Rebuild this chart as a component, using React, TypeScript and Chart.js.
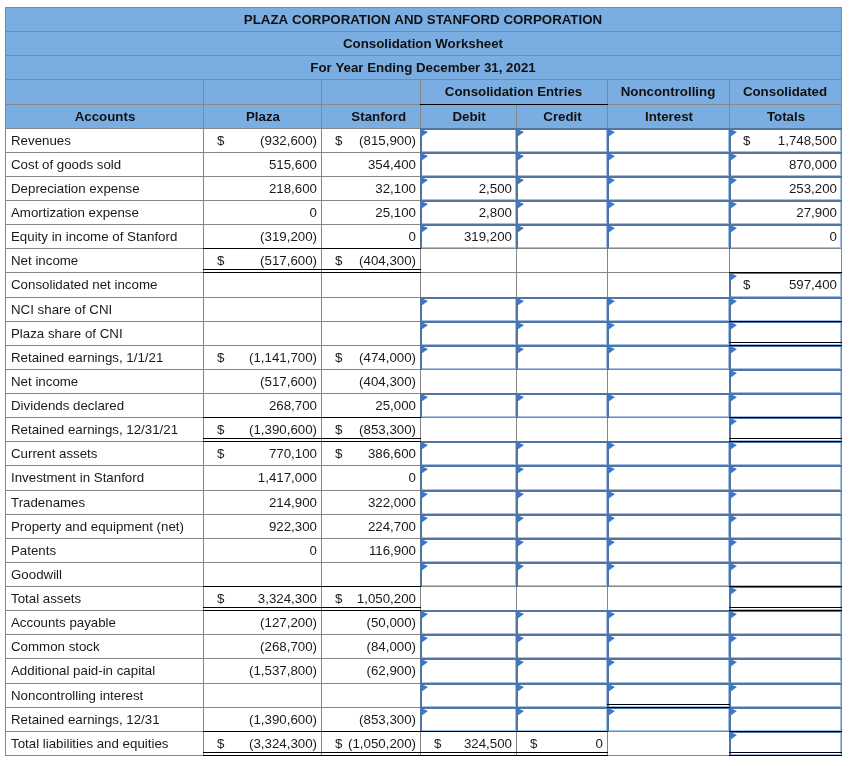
import React, { useEffect, useRef } from 'react';
import { Chart, registerables } from 'chart.js';

Chart.register(...registerables);

// ---------- text ----------
const titleLines = [
  'PLAZA CORPORATION AND STANFORD CORPORATION',
  'Consolidation Worksheet',
  'For Year Ending December 31, 2021',
];
const groupHeaders = ['', '', '', 'Consolidation Entries', '', 'Noncontrolling', 'Consolidated'];
const columnHeaders = ['Accounts', 'Plaza', 'Stanford', 'Debit', 'Credit', 'Interest', 'Totals'];

// ---------- data ----------
const accounts = [
  'Revenues',
  'Cost of goods sold',
  'Depreciation expense',
  'Amortization expense',
  'Equity in income of Stanford',
  'Net income',
  'Consolidated net income',
  'NCI share of CNI',
  'Plaza share of CNI',
  'Retained earnings, 1/1/21',
  'Net income',
  'Dividends declared',
  'Retained earnings, 12/31/21',
  'Current assets',
  'Investment in Stanford',
  'Tradenames',
  'Property and equipment (net)',
  'Patents',
  'Goodwill',
  'Total assets',
  'Accounts payable',
  'Common stock',
  'Additional paid-in capital',
  'Noncontrolling interest',
  'Retained earnings, 12/31',
  'Total liabilities and equities',
];

const plaza: (number | null)[] = [
  -932600, 515600, 218600, 0, -319200, -517600, null, null, null,
  -1141700, -517600, 268700, -1390600,
  770100, 1417000, 214900, 922300, 0, null, 3324300,
  -127200, -268700, -1537800, null, -1390600, -3324300,
];
const stanford: (number | null)[] = [
  -815900, 354400, 32100, 25100, 0, -404300, null, null, null,
  -474000, -404300, 25000, -853300,
  386600, 0, 322000, 224700, 116900, null, 1050200,
  -50000, -84000, -62900, null, -853300, -1050200,
];
const debit: (number | null)[] = [
  null, null, 2500, 2800, 319200, null, null, null, null,
  null, null, null, null,
  null, null, null, null, null, null, null,
  null, null, null, null, null, 324500,
];
const credit: (number | null)[] = [
  null, null, null, null, null, null, null, null, null,
  null, null, null, null,
  null, null, null, null, null, null, null,
  null, null, null, null, null, 0,
];
const nci: (number | null)[] = new Array(26).fill(null);
const totals: (number | null)[] = [
  1748500, 870000, 253200, 27900, 0, null, 597400, null, null,
  null, null, null, null,
  null, null, null, null, null, null, null,
  null, null, null, null, null, null,
];

// rows whose figure carries a "$"
const plazaDollarRows = [0, 5, 9, 12, 13, 19, 25];
const stanfordDollarRows = [0, 5, 9, 12, 13, 19, 25];
const debitDollarRows = [25];
const creditDollarRows = [25];
const totalsDollarRows = [0, 6];

// entry cells (Debit, Credit, NCI, Totals) per row
const entryCells = [
  '1111', '1111', '1111', '1111', '1111', '0000', '0001', '1111', '1111',
  '1111', '0001', '1111', '0001',
  '1111', '1111', '1111', '1111', '1111', '1111', '0001',
  '1111', '1111', '1111', '1111', '1111', '0001',
];

// ---------- layout / style ----------
const colWidths = [198, 118, 99, 96, 91, 122, 112];
const HEADER_ROWS = 5;
const HEADER_BG = '#7aaee3';
const GRID = '#878787';
const ENTRY_DARK = '#51759f';
const ENTRY_LIGHT = '#a2c1e4';
const FLAG = '#3f77c4';
const FONT = '"Liberation Sans", Arial, Helvetica, sans-serif';

// total rules: [dataRow, columns, double]
const rules: { row: number; cols: number[]; double: boolean }[] = [
  { row: 4, cols: [1, 2], double: false },
  { row: 5, cols: [1, 2], double: true },
  { row: 5, cols: [6], double: false },
  { row: 7, cols: [6], double: false },
  { row: 8, cols: [6], double: true },
  { row: 11, cols: [1, 2, 6], double: false },
  { row: 12, cols: [1, 2, 6], double: true },
  { row: 18, cols: [1, 2, 6], double: false },
  { row: 19, cols: [1, 2, 6], double: true },
  { row: 23, cols: [5], double: true },
  { row: 24, cols: [1, 2, 3, 4, 6], double: false },
  { row: 25, cols: [1, 2, 3, 4, 6], double: true },
];

const fmt = (v: number) => {
  const s = Math.abs(v).toLocaleString('en-US');
  return v < 0 ? `(${s})` : s;
};

const tablePlugin = {
  id: 'worksheetTable',
  afterDraw(chart: any) {
    const ctx: CanvasRenderingContext2D = chart.ctx;
    const xs = chart.scales.x;
    const ys = chart.scales.y;
    const edges = [0];
    colWidths.forEach((w) => edges.push(edges[edges.length - 1] + w));
    const nCols = colWidths.length;
    const nRows = HEADER_ROWS + accounts.length;
    const X = (i: number) => Math.round(xs.getPixelForValue(edges[i]));
    const Y = (r: number) => Math.round(ys.getPixelForValue(r));
    const left = X(0);
    const right = X(nCols);
    const W = right - left + 1;

    ctx.save();
    // backgrounds
    ctx.fillStyle = '#ffffff';
    ctx.fillRect(left, Y(0), W, Y(nRows) - Y(0));
    ctx.fillStyle = HEADER_BG;
    ctx.fillRect(left, Y(0), W, Y(HEADER_ROWS) - Y(0));

    // grid
    ctx.fillStyle = GRID;
    for (let r = 0; r <= nRows; r++) ctx.fillRect(left, Y(r), W, 1);
    for (let r = 0; r < nRows; r++) {
      for (let c = 0; c <= nCols; c++) {
        if (r < 3 && c > 0 && c < nCols) continue;
        if (r === 3 && c === 4) continue;
        ctx.fillRect(X(c), Y(r), 1, Y(r + 1) - Y(r) + 1);
      }
    }

    // entry cells
    for (let i = 0; i < accounts.length; i++) {
      const r = HEADER_ROWS + i;
      for (let k = 0; k < 4; k++) {
        if (entryCells[i][k] !== '1') continue;
        const c = 3 + k;
        const x0 = X(c);
        const x1 = X(c + 1);
        const y0 = Y(r);
        const y1 = Y(r + 1);
        ctx.fillStyle = '#ffffff';
        ctx.fillRect(x0, y0, x1 - x0, y1 - y0);
        ctx.fillStyle = ENTRY_LIGHT;
        ctx.fillRect(x0 + 2, y1 - 1, x1 - x0 - 2, 1);
        ctx.fillRect(x1 - 1, y0 + 2, 1, y1 - y0 - 2);
        ctx.fillStyle = ENTRY_DARK;
        ctx.fillRect(x0, y0, x1 - x0 + 1, 2);
        ctx.fillRect(x0, y0, 2, y1 - y0 + 1);
        ctx.fillStyle = FLAG;
        ctx.beginPath();
        ctx.moveTo(x0 + 1, y0 + 1);
        ctx.lineTo(x0 + 8, y0 + 4);
        ctx.lineTo(x0 + 1, y0 + 9);
        ctx.closePath();
        ctx.fill();
      }
    }

    // total rules
    ctx.fillStyle = '#000000';
    ctx.fillRect(X(3), Y(4), X(5) - X(3) + 1, 1);
    rules.forEach((rule) => {
      const y = Y(HEADER_ROWS + rule.row + 1);
      rule.cols.forEach((c) => {
        const x0 = X(c);
        const w = X(c + 1) - x0 + 1;
        ctx.fillRect(x0, y, w, 1);
        if (rule.double) ctx.fillRect(x0, y - 3, w, 1);
      });
    });

    // header text
    ctx.textBaseline = 'middle';
    ctx.fillStyle = '#111111';
    ctx.font = `bold 13.3px ${FONT}`;
    const midY = (r: number) => (Y(r) + Y(r + 1)) / 2 + 1;
    ctx.textAlign = 'center';
    titleLines.forEach((t, r) => ctx.fillText(t, (left + right) / 2, midY(r)));
    groupHeaders.forEach((t, c) => {
      if (!t) return;
      const span = c === 3 ? 2 : 1;
      ctx.fillText(t, (X(c) + X(c + span)) / 2, midY(3));
    });
    columnHeaders.forEach((t, c) => {
      if (c === 2) {
        ctx.textAlign = 'right';
        ctx.fillText(t, X(c + 1) - 14, midY(4));
        ctx.textAlign = 'center';
      } else {
        ctx.fillText(t, (X(c) + X(c + 1)) / 2 + 1, midY(4));
      }
    });

    // body text
    ctx.font = `13.3px ${FONT}`;
    ctx.fillStyle = '#1a1a1a';
    const columns: [(number | null)[], number[]][] = [
      [plaza, plazaDollarRows],
      [stanford, stanfordDollarRows],
      [debit, debitDollarRows],
      [credit, creditDollarRows],
      [nci, []],
      [totals, totalsDollarRows],
    ];
    accounts.forEach((name, i) => {
      const r = HEADER_ROWS + i;
      const y = midY(r);
      ctx.textAlign = 'left';
      ctx.fillText(name, X(0) + 6, y);
      columns.forEach(([vals, dollars], k) => {
        const c = k + 1;
        const v = vals[i];
        if (v === null || v === undefined) return;
        if (dollars.includes(i)) {
          ctx.textAlign = 'left';
          ctx.fillText('$', X(c) + 14, y);
        }
        ctx.textAlign = 'right';
        ctx.fillText(fmt(v), X(c + 1) - 4, y);
      });
    });
    ctx.restore();
  },
};

export default function App() {
  const canvasRef = useRef<HTMLCanvasElement | null>(null);

  useEffect(() => {
    const canvas = canvasRef.current;
    if (!canvas) return;
    const total = colWidths.reduce((a, b) => a + b, 0);
    const chart = new Chart(canvas, {
      type: 'scatter',
      data: { datasets: [{ data: [] }] },
      options: {
        animation: false,
        responsive: false,
        maintainAspectRatio: false,
        layout: { padding: { left: 5, top: 7, right: 27, bottom: 11 } },
        plugins: { legend: { display: false }, tooltip: { enabled: false } },
        scales: {
          x: { type: 'linear', min: 0, max: total, display: false },
          y: { type: 'linear', min: 0, max: HEADER_ROWS + accounts.length, reverse: true, display: false },
        },
      },
      plugins: [tablePlugin],
    });
    return () => chart.destroy();
  }, []);

  return (
    <div style={{ position: 'fixed', left: 0, top: 0, width: 868, height: 766, background: '#fff' }}>
      <canvas ref={canvasRef} width={868} height={766} style={{ display: 'block', width: 868, height: 766 }} />
    </div>
  );
}
